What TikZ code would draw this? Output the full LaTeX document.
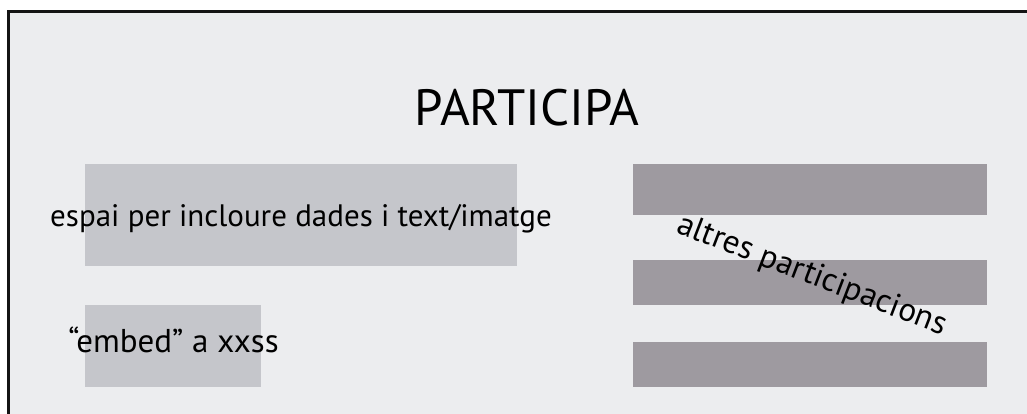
\documentclass[tikz,border=0pt]{standalone}
\usepackage{fontspec}
\setmainfont{PT Sans}
\usepackage{tikz}
\usetikzlibrary{positioning}
\definecolor{pagebg}{RGB}{236,237,239}
\definecolor{lightbox}{RGB}{197,198,203}
\definecolor{darkbar}{RGB}{158,154,160}
\definecolor{framek}{RGB}{20,20,20}
\tikzset{
  slot/.style={rectangle, fill=lightbox, inner sep=0pt},
  bar/.style={rectangle, fill=darkbar, inner sep=0pt, minimum width=354pt},
  label/.style={inner sep=0pt, anchor=base, text=black, font=\fontsize{31}{34}\selectfont}
}

\begin{document}
\begin{tikzpicture}[x=1pt, y=-1pt]
  \clip (0,0) rectangle (1027,414);
  \fill[white] (0,0) rectangle (1027,414);

  % Page frame (cut off at right and bottom)
  \fill[pagebg] (8.5,12) rectangle (1040,430);
  \draw[framek, line width=3pt] (1040,12) -- (8.5,12) -- (8.5,430);

  % Title
  \node[label, font=\fontsize{51}{55}\selectfont] (title) at (527,126) {PARTICIPA};

  % Left column
  \node[slot, minimum width=432pt, minimum height=102pt] (dades) at (301,215) {};
  \node[label] (dadestxt) at (301,226) {espai per incloure dades i text/imatge};
  \node[slot, minimum width=176pt, minimum height=82pt] (embed) at (173,346) {};
  \node[label, font=\fontsize{33}{36}\selectfont] (embedtxt) at (173.5,352) {“embed” a xxss};

  % Right column
  \node[bar, minimum height=51pt] (bar1) at (810,189.5) {};
  \node[bar, minimum height=45pt] (bar2) at (810,282.5) {};
  \node[bar, minimum height=45pt] (bar3) at (810,364.5) {};
  \node[label, anchor=center, rotate=-21, font=\fontsize{33}{36}\selectfont] (altres) at (812,276) {altres participacions};
\end{tikzpicture}
\end{document}
